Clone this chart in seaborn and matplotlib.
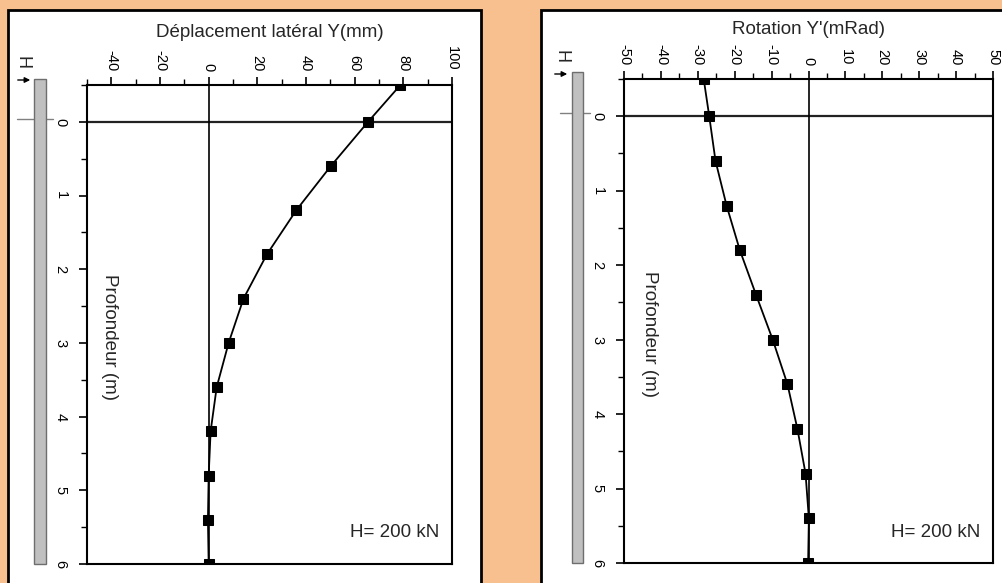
import numpy as np
import pandas as pd
import seaborn as sns
import matplotlib
matplotlib.use("Agg")
import matplotlib.pyplot as plt
from matplotlib.patches import Rectangle, FancyArrowPatch
from matplotlib.lines import Line2D
from matplotlib.ticker import MultipleLocator

# ---------------- data ----------------
depth = [-0.5, 0.0, 0.6, 1.2, 1.8, 2.4, 3.0, 3.6, 4.2, 4.8, 5.4, 6.0]
displacement_mm = [78.8, 65.5, 50.2, 36.0, 23.9, 14.3, 8.2, 3.3, 0.8, 0.0, -0.3, 0.0]
rotation_mrad = [-28.4, -26.9, -25.2, -22.2, -18.6, -14.2, -9.7, -5.7, -3.0, -0.8, 0.1, -0.1]
xticks_disp = [-40, -20, 0, 20, 40, 60, 80, 100]
xticks_rot = [-50, -40, -30, -20, -10, 0, 10, 20, 30, 40, 50]
yticks_depth = [0, 1, 2, 3, 4, 5, 6]
title_disp = "Déplacement latéral Y(mm)"
title_rot = "Rotation Y'(mRad)"
ylabel_txt = "Profondeur (m)"
load_txt = "H= 200 kN"

df_disp = pd.DataFrame({"x": displacement_mm, "depth": depth})
df_rot = pd.DataFrame({"x": rotation_mrad, "depth": depth})

sns.set_style("ticks")
plt.rcParams["font.family"] = ["Liberation Sans", "DejaVu Sans"]
plt.rcParams["axes.unicode_minus"] = False

W, H = 1003, 583
fig = plt.figure(figsize=(W / 100, H / 100), dpi=100)
fig.patch.set_facecolor("#F8C08F")


def fx(x):
    return x / W


def fy(y):
    return 1 - y / H


# white panels
for (x0, y0, x1, y1) in [(8, 10, 481, 620), (541, 10, 1040, 620)]:
    fig.patches.append(Rectangle((fx(x0), fy(y1)), fx(x1 - x0), (y1 - y0) / H,
                                 transform=fig.transFigure, facecolor="white",
                                 edgecolor="black", lw=2, zorder=-5))


def make_axes(box, df, xlim, xticks, major_minor, title, ylab_pos, load_pos,
              pile, arrow, hpos, gline):
    x0, y0, x1, y1 = box
    ax = fig.add_axes([fx(x0), fy(y1), fx(x1 - x0), (y1 - y0) / H])
    ax.set_zorder(1)
    ax.set_facecolor("white")
    ax.axhline(0, color="#222222", lw=1.6, zorder=1)
    ax.axvline(0, color="black", lw=1.2, zorder=1)
    sns.lineplot(data=df, x="x", y="depth", sort=False, estimator=None,
                 marker="s", markersize=6.5, color="black", lw=1.3,
                 markeredgecolor="black", ax=ax, zorder=3)
    ax.set_xlim(*xlim)
    ax.set_ylim(6, -0.5)
    ax.set_xticks(xticks)
    ax.xaxis.set_minor_locator(MultipleLocator(major_minor))
    ax.set_yticks(yticks_depth)
    ax.yaxis.set_minor_locator(MultipleLocator(0.5))
    ax.xaxis.tick_top()
    ax.xaxis.set_label_position("top")
    ax.tick_params(axis="x", which="both", direction="out", top=True, bottom=False,
                   labelrotation=-90, labelsize=10.5, pad=4, colors="black")
    ax.tick_params(axis="y", which="both", direction="out", left=True, right=False,
                   labelrotation=-90, labelsize=10.5, pad=8, colors="black")
    ax.tick_params(which="major", length=6, width=1.2)
    ax.tick_params(which="minor", length=4, width=1.0)
    for lab in ax.get_yticklabels():
        lab.set_va("center")
    for s in ax.spines.values():
        s.set_visible(True)
        s.set_color("black")
        s.set_linewidth(1.5)
    ax.set_xlabel(title, fontsize=13.5, labelpad=7)
    ax.set_ylabel(ylabel_txt, fontsize=13.5, rotation=-90, va="center", ha="center")
    ax.yaxis.set_label_coords(*ylab_pos)
    ax.text(load_pos[0], load_pos[1], load_txt, transform=ax.transAxes,
            fontsize=13.5, ha="right", va="center")

    # pile sketch
    px0, py0, px1, py1 = pile
    fig.patches.append(Rectangle((fx(px0), fy(py1)), fx(px1 - px0), (py1 - py0) / H,
                                 transform=fig.transFigure, facecolor="#C0C0C0",
                                 edgecolor="#6E6E6E", lw=1, zorder=2))
    gx0, gx1, gy = gline
    fig.lines.append(Line2D([fx(gx0), fx(gx1)], [fy(gy), fy(gy)],
                            transform=fig.transFigure, color="#808080", lw=1, zorder=1))
    ax0, ax1, ay = arrow
    fig.patches.append(FancyArrowPatch((fx(ax0), fy(ay)), (fx(ax1), fy(ay)),
                                       transform=fig.transFigure, arrowstyle="-|>",
                                       mutation_scale=8, color="black", lw=1, zorder=3))
    fig.text(fx(hpos[0]), fy(hpos[1]), "H", rotation=-90, fontsize=13,
             ha="center", va="center")
    return ax


make_axes((87, 85, 452, 564), df_disp, (-50, 100), xticks_disp, 10, title_disp,
          (0.063, 0.474), (0.965, 0.065),
          (34, 79, 46, 564), (15, 33, 80), (22, 63), (17, 53, 119))
make_axes((624, 79, 993, 563), df_rot, (-50, 50), xticks_rot, 5, title_rot,
          (0.07, 0.473), (0.965, 0.063),
          (572, 72, 583, 563), (552, 570, 74), (561, 56), (560, 590, 113))

fig.savefig("out.png", dpi=100, facecolor=fig.get_facecolor())
